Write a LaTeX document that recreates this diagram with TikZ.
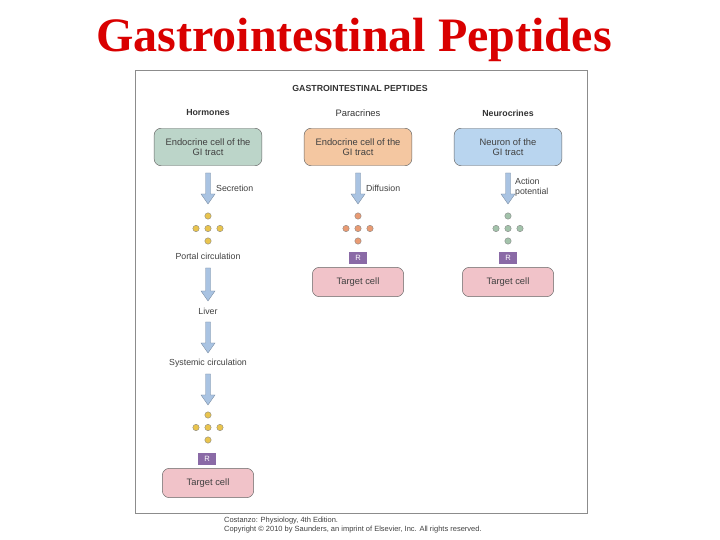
\documentclass[tikz,border=0pt]{standalone}
\usepackage{fontspec}
\setmainfont{Liberation Serif}
\newfontfamily\sansf{Liberation Sans}
\usetikzlibrary{positioning,arrows.meta}
\definecolor{hormfill}{HTML}{BCD5C9}
\definecolor{parafill}{HTML}{F4C7A1}
\definecolor{neurfill}{HTML}{B9D5EF}
\definecolor{targfill}{HTML}{F1C3C9}
\definecolor{recfill}{HTML}{8A6AA6}
\definecolor{flowarr}{HTML}{A9C3E2}
\definecolor{ydot}{HTML}{E9C44E}
\definecolor{odot}{HTML}{E99B73}
\definecolor{gdot}{HTML}{A3C3AB}
\tikzset{
  cell/.style={draw=black!60, rounded corners=6pt, minimum width=92pt, minimum height=32pt,
    align=center, font=\sansf\fontsize{8}{9}\selectfont, text=black!75},
  target/.style={draw=black!60, fill=targfill, rounded corners=6pt, minimum width=78pt,
    minimum height=25pt, font=\sansf\fontsize{8}{9}\selectfont, text=black!75},
  rec/.style={fill=recfill, minimum width=15pt, minimum height=11pt, inner sep=0pt,
    font=\sansf\fontsize{6.5}{7}\selectfont, text=white},
  lbl/.style={font=\sansf\fontsize{7.5}{8.5}\selectfont, text=black!75, align=left},
  head/.style={font=\sansf\bfseries\fontsize{7.5}{8.5}\selectfont, text=black!80},
  flow/.style={draw=flowarr!70!black, fill=flowarr, line width=0.3pt},
  dot/.style={circle, draw=black!50, line width=0.3pt, minimum size=5.5pt, inner sep=0pt}
}
\newcommand{\flowarrow}[3]{% x, y top, y bottom
  \draw[flow] (#1-2.5,#2) -- (#1+2.5,#2) -- (#1+2.5,#3-10) -- (#1+7,#3-10) -- (#1,#3)
    -- (#1-7,#3-10) -- (#1-2.5,#3-10) -- cycle;}
\newcommand{\dotgroup}[4]{% x, y top, colour, name
  \node[dot, fill=#3] (#4t) at (#1,#2) {};
  \node[dot, fill=#3] (#4l) at (#1-12,#2+12.5) {};
  \node[dot, fill=#3] (#4m) at (#1,#2+12.5) {};
  \node[dot, fill=#3] (#4r) at (#1+12,#2+12.5) {};
  \node[dot, fill=#3] (#4b) at (#1,#2+25) {};}
\begin{document}
\begin{tikzpicture}[x=0.03cm, y=-0.03cm]
\useasboundingbox (0,0) rectangle (720,540);
% Title and frame
  \node[font=\bfseries\fontsize{41}{45}\selectfont, text=red!85!black] (title) at (354,40) {Gastrointestinal Peptides};
  \draw[black!45, line width=0.8pt] (135,70) rectangle (587,513);
  \node[head] (main) at (360,88) {GASTROINTESTINAL PEPTIDES};
% Column heads
  \node[head, font=\sansf\bfseries\fontsize{7.5}{8.5}\selectfont] (hh) at (208,113) {Hormones};
  \node[head, font=\sansf\fontsize{8}{9}\selectfont] (ph) at (358,113) {Paracrines};
  \node[head, font=\sansf\bfseries\fontsize{7.5}{8.5}\selectfont] (nh) at (508,113) {Neurocrines};
% Source cells
  \node[cell, fill=hormfill] (hcell) at (208,147) {Endocrine cell of the\\GI tract};
  \node[cell, fill=parafill] (pcell) at (358,147) {Endocrine cell of the\\GI tract};
  \node[cell, fill=neurfill] (ncell) at (508,147) {Neuron of the\\GI tract};
% Hormones
  \flowarrow{208}{173}{204}
  \node[lbl, anchor=west] (sec) at (212,188) {Secretion};
  \dotgroup{208}{216}{ydot}{hd}
  \node[lbl] (portal) at (208,256) {Portal circulation};
  \flowarrow{208}{268}{301}
  \node[lbl] (liver) at (208,311) {Liver};
  \flowarrow{208}{322}{353}
  \node[lbl] (syst) at (208,363) {Systemic circulation};
  \flowarrow{208}{374}{405}
  \dotgroup{208}{415}{ydot}{hs}
  \node[rec] (hrec) at (207,459) {R};
  \node[target] (htarg) at (208,483) {Target cell};
% Paracrines
  \flowarrow{358}{173}{204}
  \node[lbl, anchor=west] (dif) at (362,188) {Diffusion};
  \dotgroup{358}{216}{odot}{pd}
  \node[rec] (prec) at (358,258) {R};
  \node[target] (ptarg) at (358,282) {Target cell};
% Neurocrines
  \flowarrow{508}{173}{204}
  \node[lbl, anchor=west] (ap) at (511,187) {Action\\potential};
  \dotgroup{508}{216}{gdot}{nd}
  \node[rec] (nrec) at (508,258) {R};
  \node[target] (ntarg) at (508,282) {Target cell};
% Credit
  \node[lbl, anchor=west, font=\sansf\fontsize{6.4}{7.2}\selectfont] (cred) at (220,525)
    {Costanzo: Physiology, 4th Edition.\\Copyright \copyright{} 2010 by Saunders, an imprint of Elsevier, Inc. All rights reserved.};
\end{tikzpicture}
\end{document}
